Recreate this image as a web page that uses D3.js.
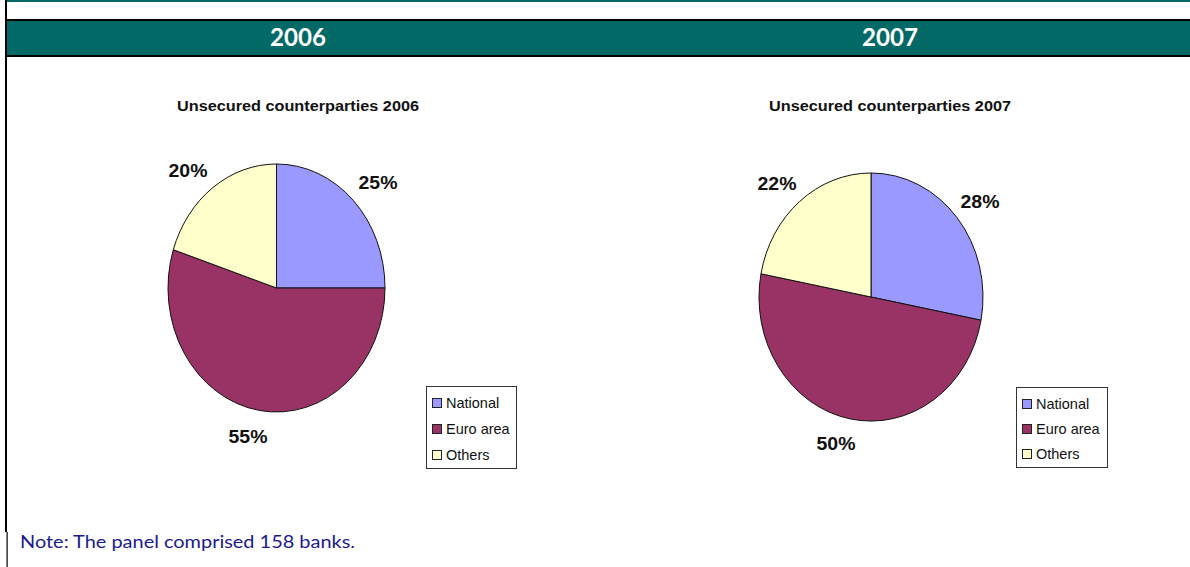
<!DOCTYPE html>
<html>
<head>
<meta charset="utf-8">
<script src="https://cdn.jsdelivr.net/npm/d3@7"></script>
<style>
  html, body { margin: 0; padding: 0; background: #fff; }
  svg { display: block; }
</style>
</head>
<body>
<svg id="chart" width="1190" height="567"></svg>
<script>
// Counterparty categories and shares (%) per year
const categories = ["National", "Euro area", "Others"];
const years = ["2006", "2007"];
const values2006 = [25, 55, 20];
const values2007 = [28, 50, 22];
const chartTitles = ["Unsecured counterparties 2006", "Unsecured counterparties 2007"];
const noteText = "Note: The panel comprised 158 banks.";

const colors = d3.scaleOrdinal()
  .domain(categories)
  .range(["#9999ff", "#993366", "#ffffcc"]);

const svg = d3.select("#chart");
const W = 1190, H = 567;
const teal = "#026966";

// Frame: left rule, top strip and the year band
svg.append("rect").attr("x", 7).attr("y", 0).attr("width", W - 7).attr("height", 2).attr("fill", teal);
svg.append("rect").attr("x", 5).attr("y", 0).attr("width", 2).attr("height", 532).attr("fill", "#000");
svg.append("rect").attr("x", 6.5).attr("y", 532).attr("width", 1.2).attr("height", H - 532).attr("fill", "#000");
svg.append("rect").attr("x", 7).attr("y", 19).attr("width", W - 7).attr("height", 38).attr("fill", "#000");
svg.append("rect").attr("x", 7).attr("y", 21).attr("width", W - 7).attr("height", 34).attr("fill", teal);

const yearX = d3.scalePoint().domain(years).range([298, 890]);
svg.selectAll("text.year").data(years).enter().append("text")
  .attr("class", "year")
  .attr("x", d => yearX(d))
  .attr("y", 46)
  .attr("text-anchor", "middle")
  .attr("fill", "#fff")
  .attr("font-family", "Lato, 'Open Sans', sans-serif")
  .attr("font-weight", "bold")
  .attr("font-size", 24)
  .attr("textLength", 56)
  .attr("lengthAdjust", "spacingAndGlyphs")
  .text(d => d);

// Panel layout for each pie
const panels = [
  { values: values2006, title: chartTitles[0], titleX: 298, cx: 276.5, cy: 288, rx: 108.5, ry: 124,
    labels: [[378, 182], [248, 436], [188, 170]], legend: [426, 386, 90, 82] },
  { values: values2007, title: chartTitles[1], titleX: 890, cx: 871, cy: 297, rx: 112, ry: 124,
    labels: [[980, 201], [836, 443], [777, 183]], legend: [1016, 387, 91, 80] }
];

const pie = d3.pie().sort(null).value(d => d.value);

panels.forEach(p => {
  const data = categories.map((c, i) => ({ cat: c, value: p.values[i] }));
  const arcs = pie(data);
  const arc = d3.arc().innerRadius(0).outerRadius(p.ry);

  svg.append("text")
    .attr("x", p.titleX).attr("y", 111)
    .attr("text-anchor", "middle")
    .attr("font-family", "Arial, 'Liberation Sans', sans-serif")
    .attr("font-weight", "bold")
    .attr("font-size", 14)
    .attr("fill", "#111")
    .attr("textLength", 242)
    .attr("lengthAdjust", "spacingAndGlyphs")
    .text(p.title);

  const g = svg.append("g")
    .attr("transform", `translate(${p.cx},${p.cy}) scale(${p.rx / p.ry},1)`);
  g.selectAll("path").data(arcs).enter().append("path")
    .attr("d", arc)
    .attr("fill", d => colors(d.data.cat))
    .attr("stroke", "#111")
    .attr("stroke-width", 1)
    .attr("vector-effect", "non-scaling-stroke")
    .attr("stroke-linejoin", "round");

  svg.selectAll(null).data(arcs).enter().append("text")
    .attr("x", (d, i) => p.labels[i][0])
    .attr("y", (d, i) => p.labels[i][1] + 6.5)
    .attr("text-anchor", "middle")
    .attr("font-family", "Arial, 'Liberation Sans', sans-serif")
    .attr("font-weight", "bold")
    .attr("font-size", 18)
    .attr("fill", "#111")
    .attr("textLength", 39)
    .attr("lengthAdjust", "spacingAndGlyphs")
    .text(d => d.data.value + "%");

  // Legend
  const [lx, ly, lw, lh] = p.legend;
  const lg = svg.append("g");
  lg.append("rect")
    .attr("x", lx + 0.5).attr("y", ly + 0.5).attr("width", lw).attr("height", lh)
    .attr("fill", "#fff").attr("stroke", "#333").attr("stroke-width", 1);
  const rowY = d3.scalePoint().domain(categories).range([ly + 17, ly + lh - 13]);
  categories.forEach(c => {
    lg.append("rect")
      .attr("x", lx + 6.5).attr("y", rowY(c) - 4.5).attr("width", 9).attr("height", 9)
      .attr("fill", colors(c)).attr("stroke", "#222").attr("stroke-width", 1);
    lg.append("text")
      .attr("x", lx + 20).attr("y", rowY(c) + 5)
      .attr("font-family", "Arial, 'Liberation Sans', sans-serif")
      .attr("font-size", 14.5)
      .attr("fill", "#111")
      .text(c);
  });
});

svg.append("text")
  .attr("x", 20).attr("y", 548)
  .attr("font-family", "Lato, 'Open Sans', sans-serif")
  .attr("font-size", 18)
  .attr("fill", "#1b1b8a")
  .attr("textLength", 335)
  .attr("lengthAdjust", "spacingAndGlyphs")
  .text(noteText);
</script>
</body>
</html>
